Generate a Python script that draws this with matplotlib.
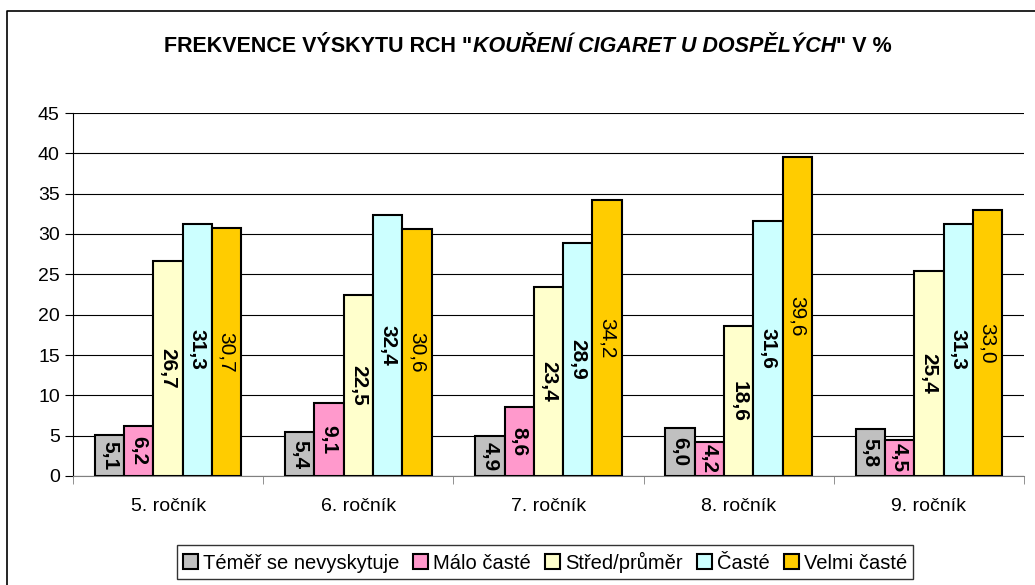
import matplotlib.pyplot as plt
from matplotlib.lines import Line2D
import numpy as np

categories = ['5. ročník', '6. ročník', '7. ročník', '8. ročník', '9. ročník']
series_names = ['Téměř se nevyskytuje', 'Málo časté', 'Střed/průměr', 'Časté', 'Velmi časté']
temer = [5.1, 5.4, 4.9, 6.0, 5.8]
malo = [6.2, 9.1, 8.6, 4.2, 4.5]
stred = [26.7, 22.5, 23.4, 18.6, 25.4]
caste = [31.3, 32.4, 28.9, 31.6, 31.3]
velmi = [30.7, 30.6, 34.2, 39.6, 33.0]
series = [temer, malo, stred, caste, velmi]
colors = ['#C0C0C0', '#FF99CC', '#FFFFCC', '#CCFFFF', '#FFCC00']
bold_labels = [True, True, True, True, False]

plt.rcParams['font.family'] = ['Liberation Sans', 'DejaVu Sans']

fig = plt.figure(figsize=(10.35, 5.85), dpi=100)
# chart-area border (only the left and top edges are visible in the crop)
bx, by = 7/1035, 1 - 11/585
fig.lines.append(Line2D([bx, bx, 1.0], [0, by, by], transform=fig.transFigure,
                        color='black', linewidth=1.2))
ax = fig.add_axes([73/1035, 109/585, 951/1035, 363/585])

x = np.arange(len(categories))
w = 0.154
for j, vals in enumerate(series):
    pos = x + (j - 2) * w
    ax.bar(pos, vals, width=w, color=colors[j], edgecolor='black', linewidth=1.5,
           label=series_names[j], zorder=3)
    for p, v in zip(pos, vals):
        ax.text(p, v / 2, f'{v:.1f}'.replace('.', ','), rotation=270, ha='center', va='center',
                fontsize=15, fontweight='bold' if bold_labels[j] else 'normal', zorder=4)

ax.set_xlim(-0.5, len(categories) - 0.5)
ax.set_ylim(0, 45)
ax.set_yticks(range(0, 46, 5))
ax.yaxis.grid(True, color='black', linewidth=0.8, zorder=0)
ax.set_xticks(x)
ax.set_xticklabels(categories, fontsize=14)
ax.set_xticks(np.arange(-0.5, len(categories), 1), minor=True)
ax.tick_params(axis='x', which='major', length=0, pad=16)
ax.tick_params(axis='x', which='minor', length=6, color='gray')
ax.tick_params(axis='y', labelsize=14, length=6)
for s in ['top', 'right']:
    ax.spines[s].set_visible(False)
ax.spines['bottom'].set_color('gray')

# title in three pieces (middle part italic)
title_parts = [('FREKVENCE VÝSKYTU RCH "', 'normal'),
               ('KOUŘENÍ CIGARET U DOSPĚLÝCH', 'italic'),
               ('" V %', 'normal')]
r = fig.canvas.get_renderer()
texts = []
for s, st in title_parts:
    t = fig.text(0, 1 - 46/585, s, ha='left', va='center', fontsize=15.5,
                 fontweight='bold', style=st)
    texts.append(t)
widths = [t.get_window_extent(r).width for t in texts]
x0 = 528 - sum(widths) / 2
for t, wd in zip(texts, widths):
    t.set_x(x0 / 1035)
    x0 += wd

leg = ax.legend(loc='center', bbox_to_anchor=(545/1035, 1 - 562/585), bbox_transform=fig.transFigure,
                ncol=5, fontsize=14.5, frameon=True, fancybox=False, edgecolor='black',
                handlelength=0.75, handleheight=0.75, handletextpad=0.25, columnspacing=0.7,
                borderpad=0.3, borderaxespad=0)
leg.get_frame().set_linewidth(1.0)

fig.savefig('out.png', dpi=100)
